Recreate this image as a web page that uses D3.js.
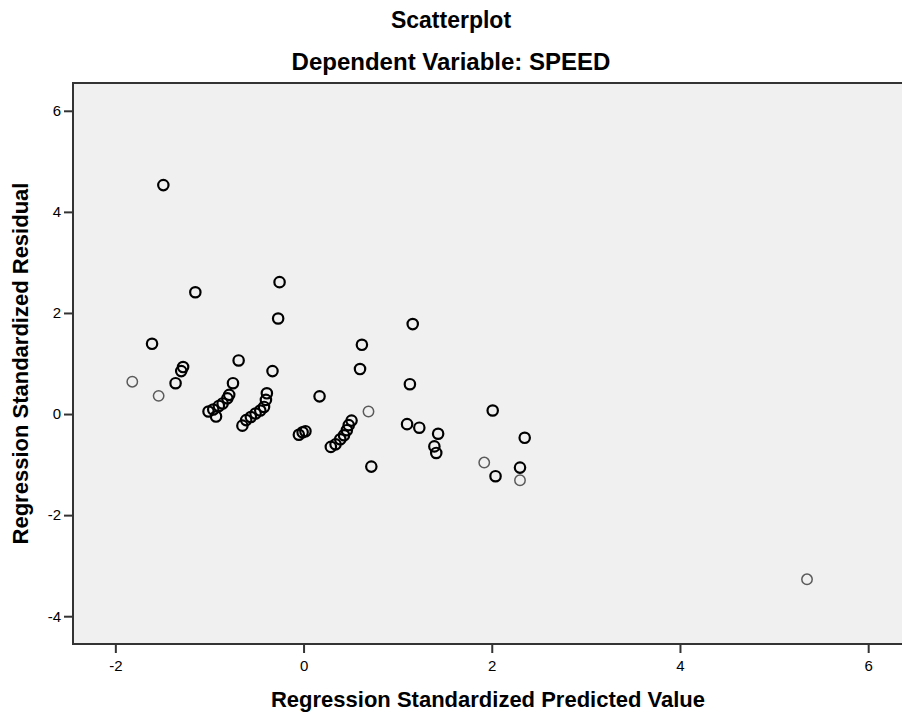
<!DOCTYPE html>
<html>
<head>
<meta charset="utf-8">
<script src="https://cdn.jsdelivr.net/npm/d3@7"></script>
<style>
  body { margin: 0; background: #fff; }
  svg text { font-family: "Liberation Sans", Arial, sans-serif; fill: #000; }
</style>
</head>
<body>
<svg id="chart" width="902" height="713"></svg>
<script>
// predicted (x) and residual (y) values
const darkX = [-1.49, -1.15, -0.255, -0.27, -1.61, 0.62, 0.60, -0.69, -0.33,
  -1.28, -1.30, -1.36, -0.75,
  -1.01, -0.96, -0.93, -0.90, -0.86, -0.81, -0.79,
  -0.65, -0.61, -0.56, -0.51, -0.46, -0.42, -0.40, -0.39,
  -0.05, -0.01, 0.02, 0.17,
  0.29, 0.34, 0.39, 0.43, 0.46, 0.48, 0.51, 0.72,
  1.16, 1.13, 2.01, 1.10, 1.23, 1.43, 1.39, 1.41, 2.35, 2.30, 2.04];
const darkY = [4.53, 2.41, 2.61, 1.89, 1.39, 1.37, 0.89, 1.06, 0.85,
  0.93, 0.85, 0.61, 0.61,
  0.05, 0.09, -0.05, 0.16, 0.21, 0.31, 0.38,
  -0.23, -0.12, -0.06, 0.01, 0.07, 0.14, 0.28, 0.41,
  -0.41, -0.36, -0.34, 0.35,
  -0.65, -0.60, -0.50, -0.42, -0.32, -0.22, -0.13, -1.04,
  1.78, 0.59, 0.07, -0.20, -0.27, -0.39, -0.64, -0.77, -0.47, -1.06, -1.23];
const lightX = [-1.82, -1.54, 0.69, 1.92, 2.30, 5.35];
const lightY = [0.64, 0.36, 0.05, -0.96, -1.31, -3.27];
const ticks = [-4, -2, 0, 2, 4, 6];

const svg = d3.select("#chart");
const plotL = 73, plotR = 903, plotT = 83, plotB = 644;

const x = d3.scaleLinear().domain([-2.45, 6.37]).range([plotL, plotR]);
const y = d3.scaleLinear().domain([-4.55, 6.55]).range([plotB, plotT]);

svg.append("rect")
  .attr("x", plotL).attr("y", plotT)
  .attr("width", plotR - plotL).attr("height", plotB - plotT)
  .attr("fill", "#f0f0f0")
  .attr("stroke", "#333").attr("stroke-width", 2);

function xAxis(g) {
  g.attr("transform", `translate(0, ${plotB})`)
    .call(d3.axisBottom(x).tickValues(ticks.filter((t) => t >= -2))
      .tickFormat((d) => String(d)).tickSize(9).tickPadding(7))
    .call((g) => g.select(".domain").remove());
  g.selectAll(".tick line").attr("stroke", "#333").attr("stroke-width", 2);
  g.selectAll("text").attr("font-size", "15px").attr("fill", "#222");
}
function yAxis(g) {
  g.attr("transform", `translate(${plotL}, 0)`)
    .call(d3.axisLeft(y).tickValues(ticks)
      .tickFormat((d) => String(d)).tickSize(9).tickPadding(3))
    .call((g) => g.select(".domain").remove());
  g.selectAll(".tick line").attr("stroke", "#333").attr("stroke-width", 2);
  g.selectAll("text").attr("font-size", "15px").attr("fill", "#222");
}
svg.append("g").call(xAxis);
svg.append("g").call(yAxis);

const dots = svg.append("g").attr("fill", "none");
dots.selectAll("circle.light")
  .data(lightX)
  .join("circle")
  .attr("class", "light")
  .attr("cx", (d) => x(d))
  .attr("cy", (d, i) => y(lightY[i]))
  .attr("r", 5.2)
  .attr("stroke", "#5a5a5a")
  .attr("stroke-width", 1.5);
dots.selectAll("circle.dark")
  .data(darkX)
  .join("circle")
  .attr("class", "dark")
  .attr("cx", (d) => x(d))
  .attr("cy", (d, i) => y(darkY[i]))
  .attr("r", 5.2)
  .attr("stroke", "#000")
  .attr("stroke-width", 2.2);

svg.append("text").attr("x", 451).attr("y", 28)
  .attr("text-anchor", "middle").attr("font-size", "23px").attr("font-weight", "bold")
  .text("Scatterplot");
svg.append("text").attr("x", 451).attr("y", 70)
  .attr("text-anchor", "middle").attr("font-size", "24px").attr("font-weight", "bold")
  .text("Dependent Variable: SPEED");
svg.append("text").attr("x", (plotL + plotR) / 2).attr("y", 707)
  .attr("text-anchor", "middle").attr("font-size", "22px").attr("font-weight", "bold")
  .text("Regression Standardized Predicted Value");
svg.append("text")
  .attr("transform", `translate(28, ${(plotT + plotB) / 2}) rotate(-90)`)
  .attr("text-anchor", "middle").attr("font-size", "22px").attr("font-weight", "bold")
  .text("Regression Standardized Residual");
</script>
</body>
</html>
